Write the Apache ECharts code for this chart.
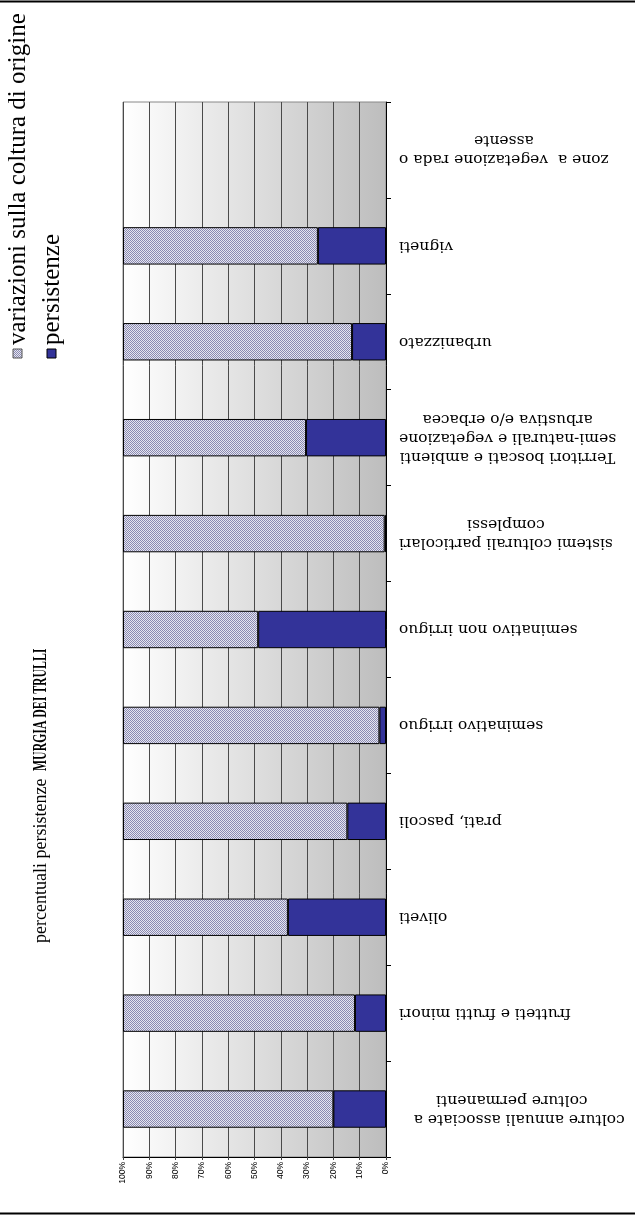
<!DOCTYPE html>
<html>
<head>
<meta charset="utf-8">
<script src="https://cdn.jsdelivr.net/npm/echarts@6/dist/echarts.min.js"></script>
<style>
html,body{margin:0;padding:0;background:#fff;}
#chart{width:635px;height:1216px;}
</style>
</head>
<body>
<div id="chart"></div>
<script>
// categories from bottom to top
const categories = [
  'colture annuali associate a   \ncolture permanenti',
  'frutteti e frutti minori',
  'oliveti',
  'prati, pascoli',
  'seminativo irriguo',
  'seminativo non irriguo',
  'sistemi colturali particolari\ncomplessi',
  'Territori boscati e ambienti\nsemi-naturali e vegetazione\narbustiva e/o erbacea',
  'urbanizzato',
  'vigneti',
  'zone a  vegetazione rada o\nassente'
];
const persistenze = [20.0, 11.8, 37.3, 14.7, 2.5, 48.6, 0.5, 30.4, 12.9, 25.9, 0];
const variazioni  = [80.0, 88.2, 62.7, 85.3, 97.5, 51.4, 99.5, 69.6, 87.1, 74.1, 0];
const seriesNames = ['variazioni sulla coltura di origine', 'persistenze'];
const titleText = ['percentuali persistenze ', 'MURGIA DEI TRULLI'];

const pc = document.createElement('canvas');
pc.width = 2; pc.height = 2;
const pctx = pc.getContext('2d');
pctx.fillStyle = '#e6e6ef'; pctx.fillRect(0, 0, 2, 2);
pctx.fillStyle = '#8a8ab2'; pctx.fillRect(0, 0, 1, 1); pctx.fillRect(1, 1, 1, 1);
const hatch = { image: pc, repeat: 'repeat' };
const BLUE = '#333399';
const noZero = function (v) { return v === 0 ? null : v; };

const chart = echarts.init(document.getElementById('chart'), null, { renderer: 'canvas' });
const R90 = Math.PI / 2;

chart.setOption({
  animation: false,
  grid: {
    left: 123, right: 249, top: 102, bottom: 59,
    containLabel: false,
    outerBoundsMode: 'none',
    show: true,
    borderColor: '#888', borderWidth: 1,
    backgroundColor: new echarts.graphic.LinearGradient(0, 0, 1, 0, [
      { offset: 0, color: '#ffffff' },
      { offset: 1, color: '#bdbdbd' }
    ])
  },
  xAxis: {
    type: 'value', min: 0, max: 100, interval: 10, inverse: true,
    axisLine: { show: true, lineStyle: { color: '#000', width: 1 } },
    axisTick: { show: true, length: 3, lineStyle: { color: '#444' } },
    splitLine: { show: true, lineStyle: { color: '#4a4a4a', width: 1 } },
    axisLabel: {
      rotate: 90, margin: 5, fontSize: 8.5, color: '#000',
      fontFamily: 'Liberation Sans', formatter: '{value}%'
    }
  },
  yAxis: {
    type: 'category', position: 'right', data: categories,
    axisLine: { show: true, onZero: false, lineStyle: { color: '#000', width: 1 } },
    axisTick: { show: true, length: 5, alignWithLabel: false, lineStyle: { color: '#000' } },
    splitLine: { show: false },
    axisLabel: {
      rotate: 180, margin: 13, interval: 0,
      formatter: function (v) {
        return v.split('\n').map(function (l) { return '{c|' + l + '}'; }).join('\n');
      },
      rich: {
        c: { align: 'center', fontFamily: 'DejaVu Serif', fontSize: 15.5, lineHeight: 19, color: '#000' }
      }
    }
  },
  series: [
    {
      name: seriesNames[1], type: 'bar', stack: 's', data: persistenze.map(noZero),
      barCategoryGap: '61%',
      itemStyle: { color: BLUE, borderColor: '#000', borderWidth: 1 }
    },
    {
      name: seriesNames[0], type: 'bar', stack: 's', data: variazioni.map(noZero),
      barCategoryGap: '61%',
      itemStyle: { color: hatch, borderColor: '#000', borderWidth: 1 }
    }
  ],
  graphic: [
    { type: 'line', shape: { x1: 0, y1: 1.5, x2: 635, y2: 1.5 }, style: { stroke: '#000', lineWidth: 2 } },
    { type: 'line', shape: { x1: 0, y1: 1213.5, x2: 635, y2: 1213.5 }, style: { stroke: '#000', lineWidth: 2 } },
    // legend
    { type: 'rect', shape: { x: 13, y: 349, width: 9, height: 9 }, style: { fill: hatch, stroke: '#555', lineWidth: 1 } },
    { type: 'text', x: 18, y: 345, rotation: R90,
      style: { text: seriesNames[0], fontFamily: 'Liberation Serif', fontSize: 25, fill: '#000', textAlign: 'left', textVerticalAlign: 'middle' } },
    { type: 'rect', shape: { x: 47, y: 349, width: 9, height: 9 }, style: { fill: BLUE, stroke: '#000', lineWidth: 1 } },
    { type: 'text', x: 52, y: 345, rotation: R90,
      style: { text: seriesNames[1], fontFamily: 'Liberation Serif', fontSize: 25, fill: '#000', textAlign: 'left', textVerticalAlign: 'middle' } },
    // title
    { type: 'text', x: 41, y: 943, rotation: R90,
      style: { text: titleText[0], fontFamily: 'Liberation Serif', fontSize: 18, fill: '#000', textAlign: 'left', textVerticalAlign: 'middle' } },
    { type: 'text', x: 41, y: 771, rotation: R90, scaleX: 0.62,
      style: { text: titleText[1], fontFamily: 'Liberation Serif', fontSize: 19, fontWeight: 'bold', fill: '#000', textAlign: 'left', textVerticalAlign: 'middle' } }
  ]
});
</script>
</body>
</html>
